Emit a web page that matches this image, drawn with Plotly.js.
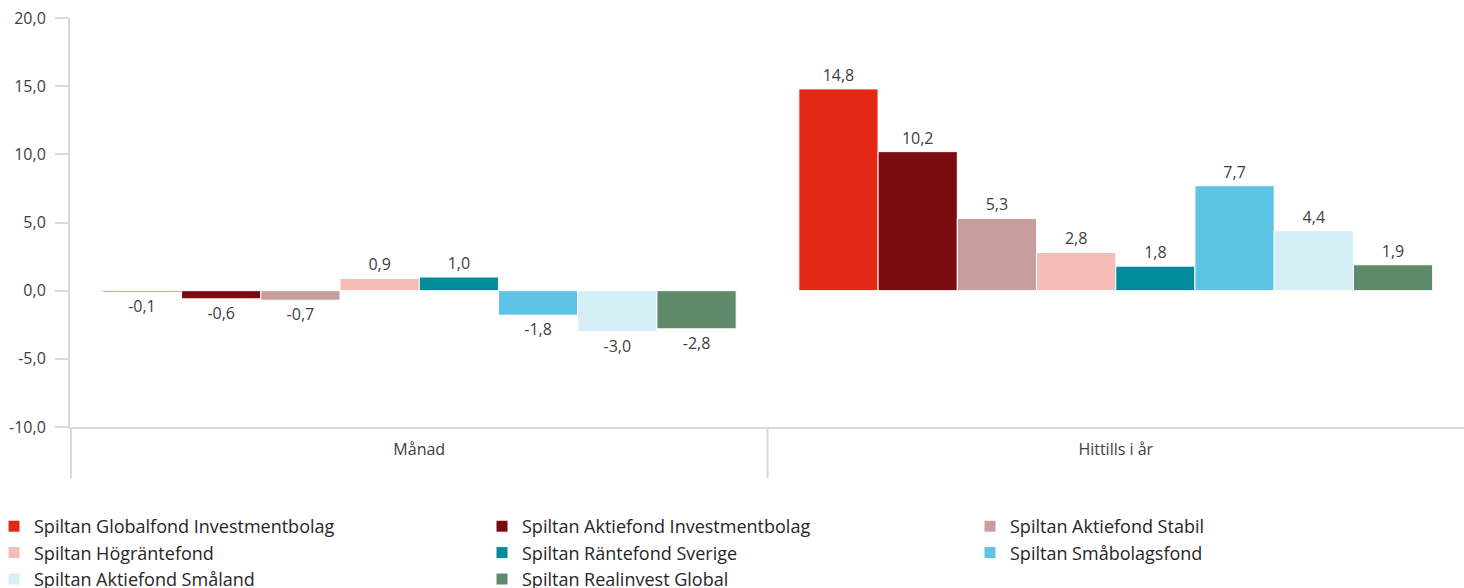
<!DOCTYPE html>
<html>
<head>
<meta charset="utf-8">
<script src="https://cdn.plot.ly/plotly-3.0.1.min.js"></script>
<style>html,body{margin:0;padding:0;background:#fff;}#chart{width:1464px;height:588px;}</style>
</head>
<body>
<div id="chart"></div>
<script>
const categories = ["Månad", "Hittills i år"];
const seriesNames = [
  "Spiltan Globalfond Investmentbolag",
  "Spiltan Aktiefond Investmentbolag",
  "Spiltan Aktiefond Stabil",
  "Spiltan Högräntefond",
  "Spiltan Räntefond Sverige",
  "Spiltan Småbolagsfond",
  "Spiltan Aktiefond Småland",
  "Spiltan Realinvest Global"
];
const globalfond = [-0.1, 14.8];
const aktiefondInvest = [-0.6, 10.2];
const aktiefondStabil = [-0.7, 5.3];
const hograntefond = [0.9, 2.8];
const rantefond = [1.0, 1.8];
const smabolag = [-1.8, 7.7];
const smaland = [-3.0, 4.4];
const realinvest = [-2.8, 1.9];
const seriesValues = [globalfond, aktiefondInvest, aktiefondStabil, hograntefond, rantefond, smabolag, smaland, realinvest];
const colors = ["#E42816", "#7A0C11", "#C89D9D", "#F6BDB6", "#008C9B", "#5EC4E3", "#D4EEF5", "#5E8C6A"];
const yTickVals = [-10, -5, 0, 5, 10, 15, 20];

const fmt = v => v.toFixed(1).replace('.', ',');

const traces = seriesNames.map((name, i) => ({
  type: 'bar',
  name: name,
  x: categories,
  y: seriesValues[i],
  text: seriesValues[i].map(fmt),
  textposition: 'outside',
  textangle: 0,
  constraintext: 'none',
  cliponaxis: false,
  outsidetextfont: {family: 'Open Sans, sans-serif', size: 16, color: '#404040'},
  marker: {color: colors[i], line: {color: '#ffffff', width: 1}},
  hoverinfo: 'none'
}));

const shapes = [];
for (let k = 0; k <= categories.length - 1; k++) {
  shapes.push({
    type: 'line', xref: 'x', yref: 'paper',
    x0: k - 0.5, x1: k - 0.5, y0: 0, y1: -0.125,
    line: {color: '#d9d9d9', width: 2}
  });
}

const layout = {
  width: 1464, height: 588,
  margin: {l: 70, r: 0, t: 18, b: 161, autoexpand: false},
  paper_bgcolor: '#ffffff', plot_bgcolor: '#ffffff',
  font: {family: 'Open Sans, sans-serif', size: 16, color: '#404040'},
  barmode: 'group', bargap: 0.09, bargroupgap: 0,
  showlegend: true,
  xaxis: {
    type: 'category',
    showline: true, linecolor: '#d9d9d9', linewidth: 2,
    ticks: '', showgrid: false, zeroline: false,
    tickfont: {size: 16, color: '#404040'},
    ticklabelstandoff: 7,
    fixedrange: true,
    automargin: false
  },
  yaxis: {
    range: [-10, 20],
    tickvals: yTickVals,
    ticktext: yTickVals.map(fmt),
    showline: true, linecolor: '#d9d9d9', linewidth: 2,
    ticks: 'outside', ticklen: 13, tickcolor: '#d9d9d9', tickwidth: 2,
    showgrid: false, zeroline: false,
    tickfont: {size: 16, color: '#404040'},
    ticklabelstandoff: 6,
    fixedrange: true,
    automargin: false
  },
  shapes: shapes,
  legend: {
    orientation: 'h',
    xref: 'paper', yref: 'paper',
    x: -76/1394, xanchor: 'left',
    y: -81/409, yanchor: 'top',
    entrywidth: 443, entrywidthmode: 'pixels',
    font: {size: 18, color: '#262626'},
    traceorder: 'normal',
    itemclick: false
  }
};

Plotly.newPlot('chart', traces, layout, {displayModeBar: false, staticPlot: true});
</script>
</body>
</html>
